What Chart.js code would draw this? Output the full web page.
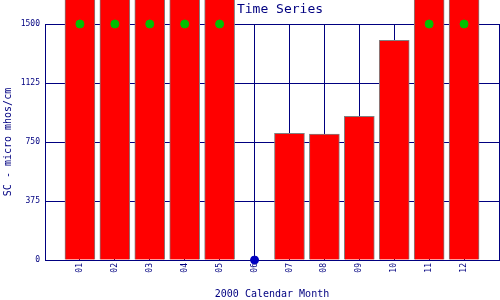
<!DOCTYPE html>
<html>
<head>
<meta charset="utf-8">
<script src="https://cdn.jsdelivr.net/npm/chart.js@4"></script>
<style>
    body { margin: 0; background: #fff; }
    canvas { display: block; }
</style>
</head>
<body>
<canvas id="scChart" width="500" height="300"></canvas>
<script>
// Month labels and monthly SC values (null = no data)
const months = ['01', '02', '03', '04', '05', '06', '07', '08', '09', '10', '11', '12'];
const scValues = [1800, 1800, 1800, 1800, 1800, null, 805, 800, 913, 1396, 1800, 1800];
const yTicks = [0, 375, 750, 1125, 1500];

const yMax = yTicks[yTicks.length - 1];
const navy = '#000080';

// Bars as x/y points on a linear month axis
const barPoints = months.map((m, i) => ({ x: i + 1, y: scValues[i] }));
// Green marker at the top for values off the scale
const overPoints = months.map((m, i) => ({ x: i + 1, y: scValues[i] > yMax ? yMax : null }));
// Blue marker on the bottom for missing months
const missingPoints = months.map((m, i) => ({ x: i + 1, y: scValues[i] === null ? 0 : null }));

// Title drawn by hand so it does not take space from the plot
const titlePlugin = {
    id: 'plotTitle',
    afterDraw(chart) {
        const c = chart.ctx;
        c.save();
        c.fillStyle = navy;
        c.font = '13px "DejaVu Sans Mono"';
        c.textAlign = 'center';
        c.textBaseline = 'alphabetic';
        c.fillText('Time Series', 280, 13);
        c.restore();
    }
};

const ctx = document.getElementById('scChart').getContext('2d');
const scChart = new Chart(ctx, {
    type: 'bar',
    data: {
        datasets: [{
            type: 'scatter',
            data: overPoints,
            backgroundColor: '#00c000',
            borderColor: '#00c000',
            pointRadius: 4,
            clip: false,
            order: 1
        }, {
            type: 'scatter',
            data: missingPoints,
            backgroundColor: '#0000c0',
            borderColor: '#0000c0',
            pointRadius: 4,
            clip: false,
            order: 1
        }, {
            type: 'bar',
            data: barPoints,
            backgroundColor: '#ff0000',
            borderColor: '#808080',
            borderWidth: 1,
            barThickness: 30,
            clip: false,
            order: 2
        }]
    },
    plugins: [titlePlugin],
    options: {
        responsive: false,
        animation: false,
        layout: {
            autoPadding: false,
            padding: { top: 24, right: 1, left: 0, bottom: 0 }
        },
        plugins: {
            legend: { display: false },
            tooltip: { enabled: false }
        },
        scales: {
            x: {
                type: 'linear',
                min: 0,
                max: months.length + 1,
                offset: false,
                afterFit: function(scale) {
                    scale.height = 40;
                    scale.paddingLeft = 0;
                    scale.paddingRight = 0;
                },
                afterBuildTicks: function(scale) {
                    scale.ticks = [];
                    for (let i = 0; i <= months.length + 1; i++) scale.ticks.push({ value: i });
                },
                grid: { color: navy, lineWidth: 1, drawTicks: false, offset: false },
                border: { color: navy, width: 1 },
                ticks: {
                    autoSkip: false,
                    minRotation: 90,
                    maxRotation: 90,
                    padding: 3,
                    color: navy,
                    font: { family: '"DejaVu Sans Mono"', size: 8 },
                    callback: function(value) {
                        return months[value - 1] || '';
                    }
                },
                title: {
                    display: true,
                    text: '2000 Calendar Month',
                    color: navy,
                    font: { family: '"DejaVu Sans Mono"', size: 10 },
                    padding: { top: 0, bottom: 0 }
                }
            },
            y: {
                min: 0,
                max: yMax,
                afterFit: function(scale) {
                    scale.width = 45;
                    scale.paddingTop = 0;
                    scale.paddingBottom = 0;
                },
                afterBuildTicks: function(scale) {
                    scale.ticks = yTicks.map(v => ({ value: v }));
                },
                grid: { color: navy, lineWidth: 1, drawTicks: false },
                border: { color: navy, width: 1 },
                ticks: {
                    padding: 5,
                    color: navy,
                    font: { family: '"DejaVu Sans Mono"', size: 8 },
                    callback: function(value) { return String(value); }
                },
                title: {
                    display: true,
                    text: 'SC - micro mhos/cm',
                    color: navy,
                    font: { family: '"DejaVu Sans Mono"', size: 10 },
                    padding: { top: 2, bottom: 0 }
                }
            }
        }
    }
});
</script>
</body>
</html>
